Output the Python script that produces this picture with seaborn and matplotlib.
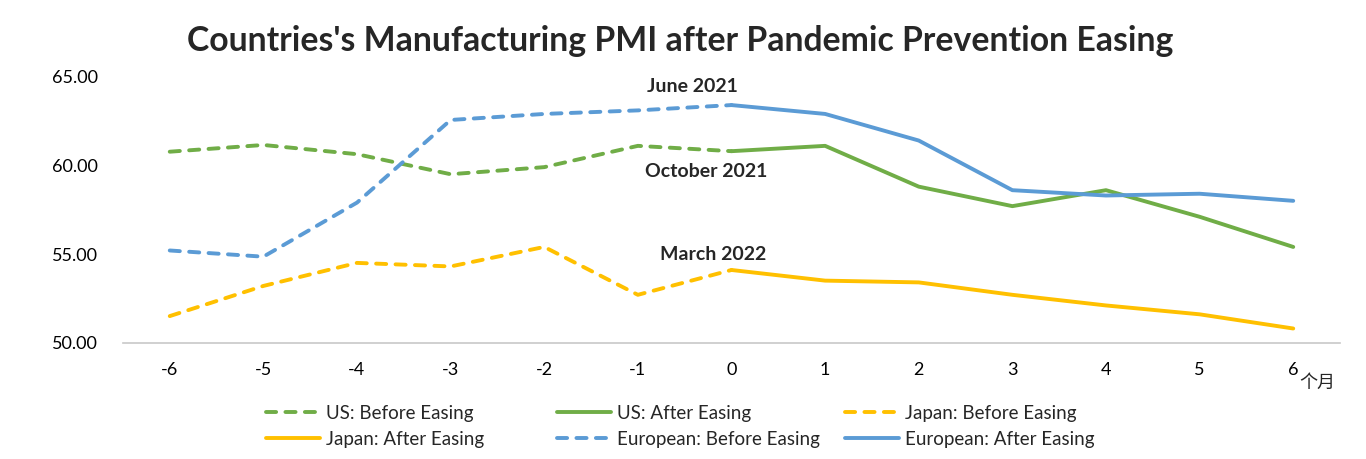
import pandas as pd
import matplotlib
matplotlib.use("Agg")
import matplotlib.pyplot as plt
import seaborn as sns
from matplotlib.ticker import FixedLocator

# months relative to easing
months_before = [-6, -5, -4, -3, -2, -1, 0]
months_after = [0, 1, 2, 3, 4, 5, 6]
month_labels = ["-6", "-5", "-4", "-3", "-2", "-1", "0", "1", "2", "3", "4", "5", "6"]

us_before = [60.77, 61.15, 60.63, 59.5, 59.9, 61.1, 60.8]
us_after = [60.8, 61.1, 58.8, 57.7, 58.6, 57.1, 55.4]
japan_before = [51.5, 53.2, 54.5, 54.3, 55.4, 52.7, 54.1]
japan_after = [54.1, 53.5, 53.4, 52.7, 52.1, 51.6, 50.8]
europe_before = [55.2, 54.85, 57.9, 62.56, 62.9, 63.1, 63.4]
europe_after = [63.4, 62.9, 61.4, 58.6, 58.3, 58.4, 58.0]

GREEN = "#70AD47"
YELLOW = "#FFC000"
BLUE = "#5B9BD5"
DASH = (0, (2.6, 2.4))

sns.set_theme(style="white")
plt.rcParams['font.family'] = ['Lato', 'Noto Sans CJK SC', 'DejaVu Sans']

fig = plt.figure(figsize=(13.66, 4.59), dpi=100)
ax = fig.add_axes([0.090, 0.2534, 0.891, 0.5795])

series = [
    ("US: Before Easing", months_before, us_before, GREEN, DASH),
    ("US: After Easing", months_after, us_after, GREEN, "-"),
    ("Japan: Before Easing", months_before, japan_before, YELLOW, DASH),
    ("Japan: After Easing", months_after, japan_after, YELLOW, "-"),
    ("European: Before Easing", months_before, europe_before, BLUE, DASH),
    ("European: After Easing", months_after, europe_after, BLUE, "-"),
]

for name, xs, ys, color, ls in series:
    df = pd.DataFrame({"month": xs, "pmi": ys})
    sns.lineplot(data=df, x="month", y="pmi", ax=ax, color=color,
                 linestyle=ls, linewidth=2.8, label=name, solid_capstyle="round",
                 dash_capstyle="round")

ax.set_xlim(-6.5, 6.5)
ax.set_ylim(50, 65)
ax.set_yticks([50, 55, 60, 65])
ax.set_yticklabels(["50.00", "55.00", "60.00", "65.00"], fontsize=13)
ax.set_xticks(list(range(-6, 7)))
ax.set_xticklabels(month_labels, fontsize=13)
ax.xaxis.set_minor_locator(FixedLocator([i + 0.5 for i in range(-7, 7)]))
ax.tick_params(axis="x", which="major", length=0, pad=14, colors="#000000")
ax.tick_params(axis="x", which="minor", length=5, color="#C8C8C8", width=1)
ax.tick_params(axis="y", length=0, pad=18, colors="#000000")
ax.set_xlabel("")
ax.set_ylabel("")

for side in ["top", "right", "left"]:
    ax.spines[side].set_visible(False)
ax.spines["bottom"].set_color("#C8C8C8")
ax.spines["bottom"].set_linewidth(1.2)

ax.text(6.07, 47.75, "个月", fontsize=13, va="center", ha="left",
        family=['Noto Sans CJK SC', 'DejaVu Sans'], clip_on=False)

ax.text(-0.42, 64.42, "June 2021", fontsize=14, fontweight="bold", ha="center", va="center")
ax.text(-0.27, 59.63, "October 2021", fontsize=14, fontweight="bold", ha="center", va="center")
ax.text(-0.20, 54.95, "March 2022", fontsize=14, fontweight="bold", ha="center", va="center")

fig.suptitle("Countries's Manufacturing PMI after Pandemic Prevention Easing",
             x=0.498, y=0.945, fontsize=24.3, fontweight="bold")

# legend: three columns at fixed positions, filled row by row
handles, labels = ax.get_legend_handles_labels()
ax.get_legend().remove()
col_x = [266 / 1366, 557 / 1366, 845 / 1366]
for c in range(3):
    idx = [c, c + 3]
    leg = fig.legend([handles[i] for i in idx], [labels[i] for i in idx],
                     loc="center left", bbox_to_anchor=(col_x[c], 1 - 426 / 459),
                     frameon=False, fontsize=13.5, handlelength=2.9,
                     handletextpad=0.3, labelspacing=0.48, borderpad=0,
                     borderaxespad=0)

fig.savefig("out.png", dpi=100)
